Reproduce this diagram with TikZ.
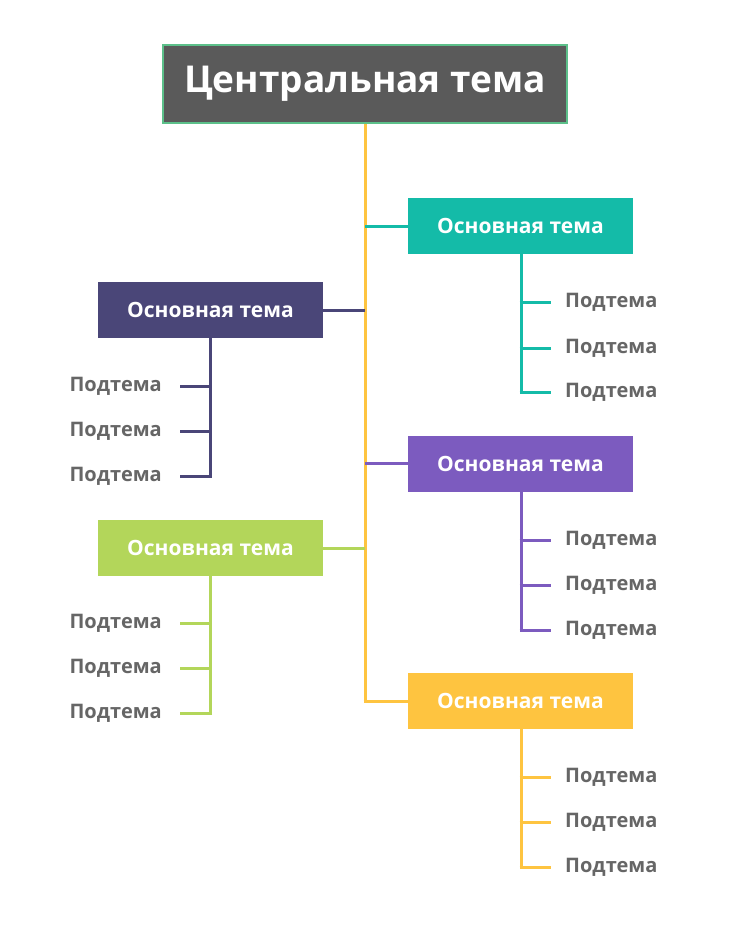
\documentclass[tikz,border=0pt]{standalone}
\usepackage{fontspec}
\setmainfont{Open Sans}
\definecolor{cgray}{HTML}{5A5A5A}
\definecolor{cgreenb}{HTML}{5CC08A}
\definecolor{cyel}{HTML}{FEC440}
\definecolor{cteal}{HTML}{14BBA8}
\definecolor{cdark}{HTML}{4A4678}
\definecolor{cpurp}{HTML}{7C5BBF}
\definecolor{clime}{HTML}{B3D65A}
\definecolor{ctext}{HTML}{666666}
\begin{document}
\begin{tikzpicture}[x=1pt,y=-1pt,
 mainbox/.style={minimum width=225pt,minimum height=56pt,inner sep=0pt,text=white,font=\bfseries\fontsize{21}{25}\selectfont},
 sub/.style={text=ctext,font=\bfseries\fontsize{20}{24}\selectfont,inner sep=0pt},
 ln/.style={line width=3pt}]
\useasboundingbox[fill=white] (0,0) rectangle (732,942);
\node[draw=cgreenb,line width=2pt,fill=cgray,minimum width=404pt,minimum height=78pt,inner sep=0pt,text=white,font=\bfseries\fontsize{37}{44}\selectfont] (c) at (365,84) {Центральная тема};
\coordinate (t0) at (365,124);
\coordinate (t1) at (365,701);
\draw[ln,cyel] (c.south) -- (t1);
% boxes
\node[mainbox,fill=cteal] (b1) at (520.5,226) {Основная тема};
\node[mainbox,fill=cdark] (b2) at (210.5,310) {Основная тема};
\node[mainbox,fill=cpurp] (b3) at (520.5,463.5) {Основная тема};
\node[mainbox,fill=clime] (b4) at (210.5,548) {Основная тема};
\node[mainbox,fill=cyel] (b5) at (520.5,701) {Основная тема};
\coordinate (j1) at (365,226); \coordinate (j2) at (365,310);
\coordinate (j3) at (365,463.5); \coordinate (j4) at (365,548);
\draw[ln,cteal] (j1) -- (b1.west);
\draw[ln,cdark] (j2) -- (b2.east);
\draw[ln,cpurp] (j3) -- (b3.west);
\draw[ln,clime] (j4) -- (b4.east);
\draw[ln,cyel] ([xshift=-1.5pt]t1) -- (b5.west);
% right subtopics
\foreach \b/\col/\ya/\yb/\yc in {b1/cteal/302/348/392, b3/cpurp/540/585/630, b5/cyel/777/822/867}{
 \coordinate (v) at (521,\yc);
 \draw[ln,\col] (521,0 |- \b.south) -- (521,\yc);
 \foreach \y [count=\i] in {\ya,\yb,\yc}{
  \node[sub,anchor=west] (\b s\i) at (565,\y) {Подтема};
  \coordinate (\b k\i) at (521,\y);
  \draw[ln,\col] ([xshift=-1.5pt]\b k\i) -- (551,\y);
 }
}
% left subtopics
\foreach \b/\col/\ya/\yb/\yc in {b2/cdark/386/431/476, b4/clime/623/668/713}{
 \draw[ln,\col] (210,0 |- \b.south) -- (210,\yc);
 \foreach \y [count=\i] in {\ya,\yb,\yc}{
  \node[sub,anchor=east] (\b s\i) at (162,\y) {Подтема};
  \coordinate (\b k\i) at (210,\y);
  \draw[ln,\col] (180,\y) -- ([xshift=1.5pt]\b k\i);
 }
}
\end{tikzpicture}
\end{document}
